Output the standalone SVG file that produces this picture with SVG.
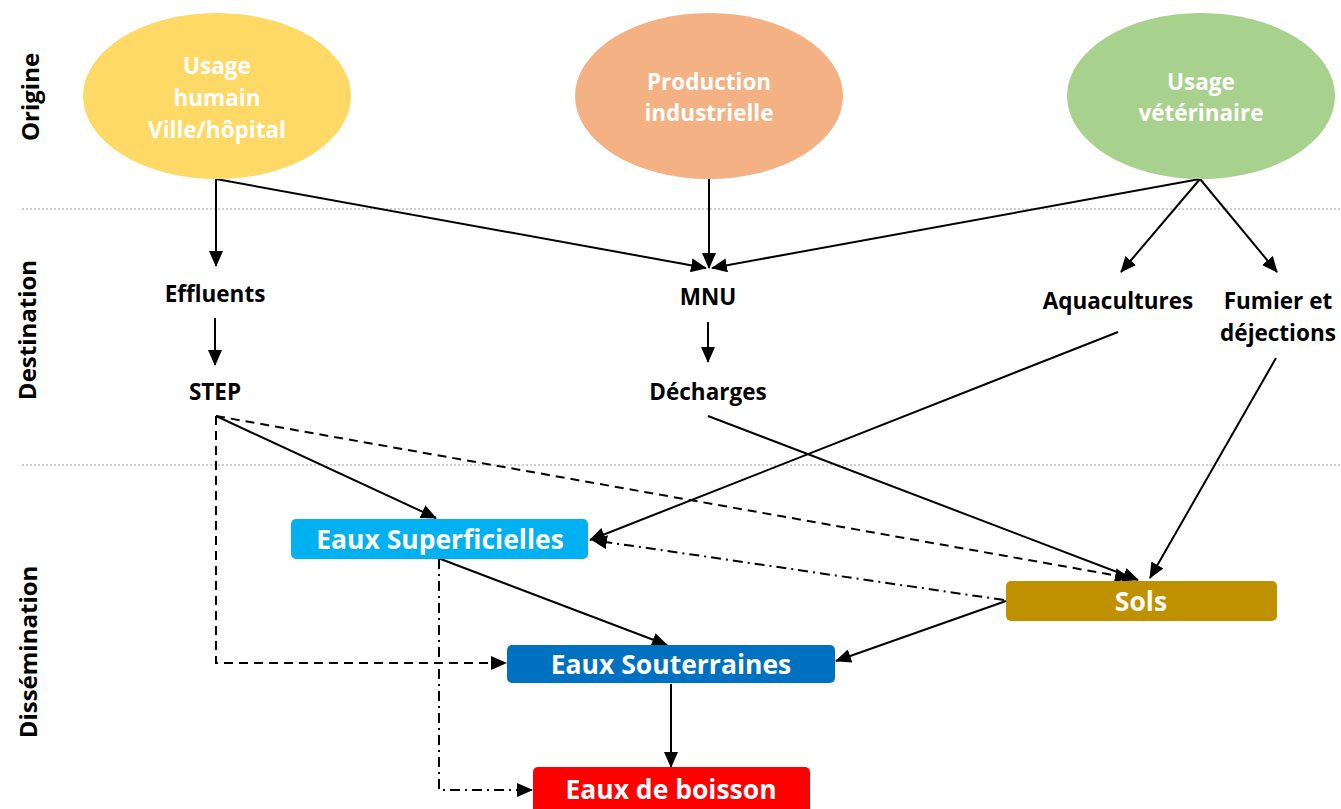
<svg xmlns="http://www.w3.org/2000/svg" width="1341" height="809" viewBox="0 0 1341 809">
  <style>
    text { font-family: "Open Sans", "Noto Sans", sans-serif; font-weight: bold; }
    .src { fill: #ffffff; font-size: 22.5px; text-anchor: middle; }
    .lbl { fill: #000000; font-size: 22.5px; text-anchor: middle; }
    .side { fill: #000000; font-size: 24px; text-anchor: middle; }
    .box { fill: #ffffff; font-size: 26.5px; text-anchor: middle; }
    .sep { stroke: #bfbfbf; stroke-width: 1.5; stroke-dasharray: 2 2; }
    .ln { fill: none; stroke: #000000; stroke-width: 2; }
    .dash { stroke-dasharray: 9 6; }
    .dashdot { stroke-dasharray: 10 5 2 5; }
  </style>
  <defs>
    <marker id="arrow" viewBox="0 0 16 14" refX="15" refY="7" markerWidth="16" markerHeight="14" markerUnits="userSpaceOnUse" orient="auto">
      <path d="M0,0 L16,7 L0,14 Z" fill="#000000"/>
    </marker>
  </defs>

  <rect width="1341" height="809" fill="#ffffff"/>

  <!-- section separators -->
  <line class="sep" x1="22" y1="209" x2="1341" y2="209"/>
  <line class="sep" x1="22" y1="465" x2="1341" y2="465"/>

  <!-- section titles -->
  <text class="side" transform="translate(39,97) rotate(-90)">Origine</text>
  <text class="side" transform="translate(36,330) rotate(-90)">Destination</text>
  <text class="side" transform="translate(37,652) rotate(-90)">Dissémination</text>

  <!-- connectors -->
  <g id="connectors">
    <line class="ln" x1="216" y1="179" x2="216" y2="266" marker-end="url(#arrow)"/>
    <line class="ln" x1="216" y1="179" x2="706" y2="268" marker-end="url(#arrow)"/>
    <line class="ln" x1="709" y1="179" x2="709" y2="268" marker-end="url(#arrow)"/>
    <line class="ln" x1="1200" y1="179" x2="712" y2="268" marker-end="url(#arrow)"/>
    <line class="ln" x1="1200" y1="179" x2="1121" y2="272" marker-end="url(#arrow)"/>
    <line class="ln" x1="1200" y1="179" x2="1277" y2="272" marker-end="url(#arrow)"/>
    <line class="ln" x1="215" y1="318" x2="215" y2="365" marker-end="url(#arrow)"/>
    <line class="ln" x1="708" y1="322" x2="708" y2="362" marker-end="url(#arrow)"/>
    <line class="ln" x1="216" y1="416" x2="436" y2="518" marker-end="url(#arrow)"/>
    <line class="ln dash" x1="216" y1="416" x2="1130" y2="578" marker-end="url(#arrow)"/>
    <line class="ln" x1="708" y1="416" x2="1138" y2="580" marker-end="url(#arrow)"/>
    <line class="ln" x1="1118" y1="332" x2="590" y2="540" marker-end="url(#arrow)"/>
    <line class="ln" x1="1276" y1="358" x2="1150" y2="578" marker-end="url(#arrow)"/>
    <line class="ln dashdot" x1="1004" y1="600" x2="592" y2="540" marker-end="url(#arrow)"/>
    <line class="ln" x1="438" y1="558" x2="667" y2="645" marker-end="url(#arrow)"/>
    <line class="ln" x1="1006" y1="601" x2="836" y2="661" marker-end="url(#arrow)"/>
    <polyline class="ln dash" points="216,416 216,663 506,663" marker-end="url(#arrow)"/>
    <polyline class="ln dashdot" points="439,559 439,790 532,790" marker-end="url(#arrow)"/>
    <line class="ln" x1="671" y1="684" x2="671" y2="767" marker-end="url(#arrow)"/>
  </g>

  <!-- origins -->
  <g id="usage-humain">
    <ellipse cx="217" cy="96" rx="134" ry="83" fill="#ffd966"/>
    <text class="src" x="217" y="74">Usage</text>
    <text class="src" x="217" y="106">humain</text>
    <text class="src" x="217" y="138">Ville/hôpital</text>
  </g>
  <g id="production-industrielle">
    <ellipse cx="709" cy="96" rx="134" ry="83" fill="#f4b183"/>
    <text class="src" x="709" y="90">Production</text>
    <text class="src" x="709" y="121">industrielle</text>
  </g>
  <g id="usage-veterinaire">
    <ellipse cx="1201" cy="96" rx="134" ry="83" fill="#a9d18e"/>
    <text class="src" x="1201" y="90">Usage</text>
    <text class="src" x="1201" y="121">vétérinaire</text>
  </g>

  <!-- destinations -->
  <g id="effluents"><text class="lbl" x="215" y="302">Effluents</text></g>
  <g id="step"><text class="lbl" x="215" y="400">STEP</text></g>
  <g id="mnu"><text class="lbl" x="708" y="305">MNU</text></g>
  <g id="decharges"><text class="lbl" x="708" y="400">Décharges</text></g>
  <g id="aquacultures"><text class="lbl" x="1118" y="309">Aquacultures</text></g>
  <g id="fumier">
    <text class="lbl" x="1278" y="309">Fumier et</text>
    <text class="lbl" x="1278" y="341">déjections</text>
  </g>

  <!-- dissemination compartments -->
  <g id="eaux-superficielles">
    <rect x="291" y="519" width="297" height="40" rx="5" fill="#00b0f0"/>
    <text class="box" x="440" y="549">Eaux Superficielles</text>
  </g>
  <g id="sols">
    <rect x="1006" y="581" width="271" height="40" rx="5" fill="#bf9000"/>
    <text class="box" x="1141" y="611">Sols</text>
  </g>
  <g id="eaux-souterraines">
    <rect x="507" y="645" width="328" height="38" rx="5" fill="#0070c0"/>
    <text class="box" x="671" y="674">Eaux Souterraines</text>
  </g>
  <g id="eaux-de-boisson">
    <rect x="533" y="767" width="277" height="50" rx="5" fill="#ff0000"/>
    <text class="box" x="671" y="799">Eaux de boisson</text>
  </g>
</svg>
